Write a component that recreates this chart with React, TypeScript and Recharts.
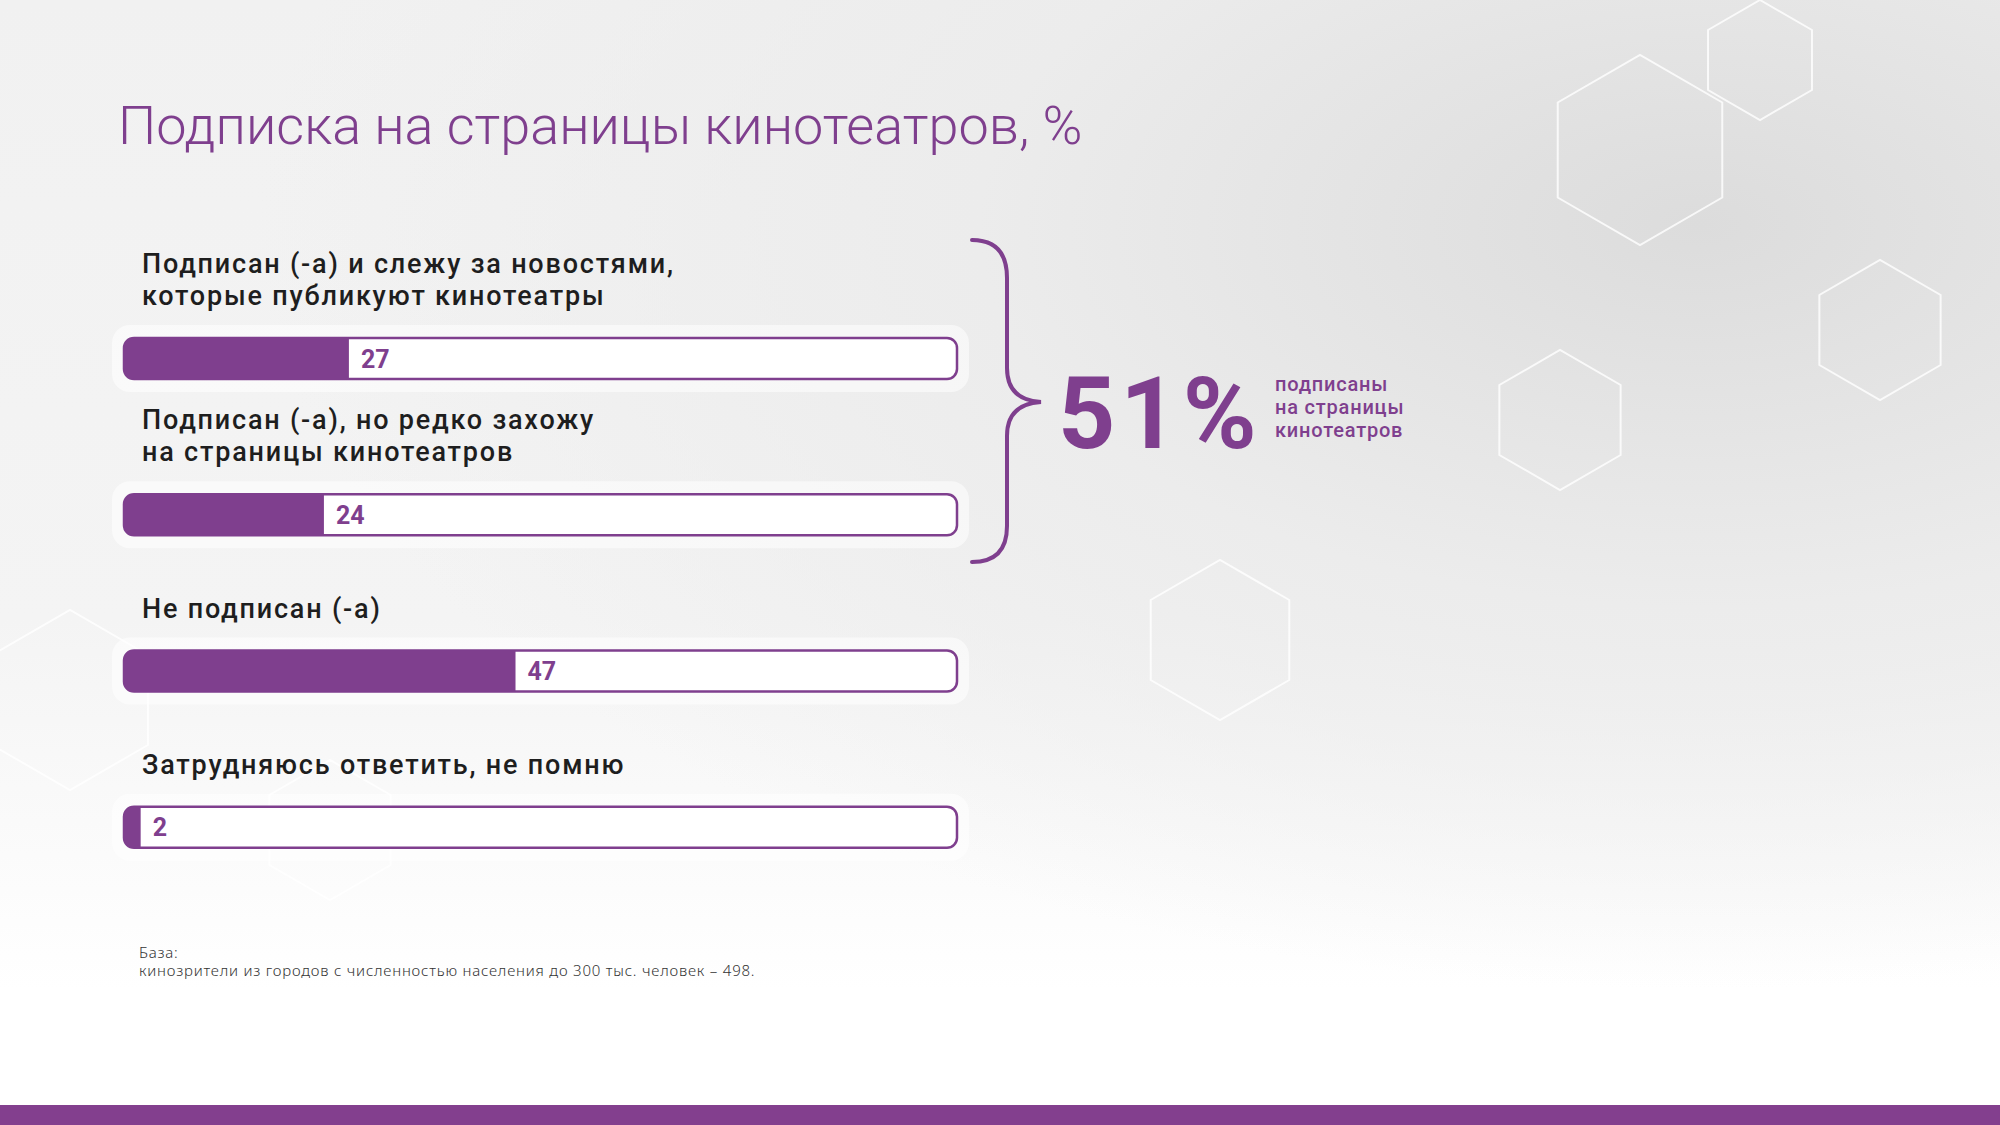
import React from 'react'
import { BarChart, Bar, XAxis, YAxis, LabelList } from 'recharts'

// answers, one per bar (\n = line break in the label)
const answers = [
  'Подписан (-а) и слежу за новостями,\nкоторые публикуют кинотеатры',
  'Подписан (-а), но редко захожу\nна страницы кинотеатров',
  'Не подписан (-а)',
  'Затрудняюсь ответить, не помню',
]
const shares = [27, 24, 47, 2]
const totalSubscribed = '51%'
const totalNote = ['подписаны', 'на страницы', 'кинотеатров']
const title = 'Подписка на страницы кинотеатров, %'
const baseNote = ['База:', 'кинозрители из городов с численностью населения до 300 тыс. человек – 498.']

const PURPLE = '#7f3f8e'
const FONT = 'Roboto, "Noto Sans", sans-serif'
const WIDE = '"Noto Sans", Roboto, sans-serif'

const chartData = answers.map((a, i) => ({ name: a, value: shares[i] }))

// faint hexagons in the backdrop
const hexes = [
  [1640, 150, 95], [1880, 330, 70], [1560, 420, 70], [1220, 640, 80], [70, 700, 90], [330, 830, 70], [1760, 60, 60],
]
const hexPath = (cx: number, cy: number, r: number) =>
  Array.from({ length: 6 }, (_, k) => {
    const a = (Math.PI / 3) * k + Math.PI / 6
    return `${k === 0 ? 'M' : 'L'}${cx + r * Math.cos(a)},${cy + r * Math.sin(a)}`
  }).join(' ') + ' Z'

const Track = (props: any) => {
  const { x, y, width, height } = props
  return (
    <g>
      <rect x={x - 12} y={y - 13} width={width + 24} height={height + 26} rx={18} fill="#ffffff" fillOpacity={0.55} />
      <rect x={x} y={y} width={width} height={height} rx={10} fill="#ffffff" stroke={PURPLE} strokeWidth={2.5} />
    </g>
  )
}

const NameLabel = (props: any) => {
  const { x, y, value } = props
  const lines = String(value).split('\n')
  const lh = 32
  const top = y - 33 - (lines.length - 1) * lh
  return (
    <g>
      {lines.map((l, i) => (
        <text key={i} x={x + 18} y={top + i * lh} fill="#1e1e1e" fontFamily={FONT} fontSize={27} fontWeight={500} letterSpacing={1.8}>
          {l}
        </text>
      ))}
    </g>
  )
}

const ValueLabel = (props: any) => {
  const { x, y, width, height, value } = props
  return (
    <text x={x + width + 12} y={y + height / 2 + 9} fill={PURPLE} fontFamily={FONT} fontSize={25} fontWeight={700}>
      {value}
    </text>
  )
}

const App = () => {
  return (
    <div style={{ position: 'absolute', left: 0, top: 0, width: 2000, height: 1125, overflow: 'hidden',
      background: 'radial-gradient(ellipse at 85% 20%, #dcdcdc 0%, #ececec 30%, rgba(255,255,255,0) 60%), linear-gradient(180deg, #f1f1f1 0%, #f4f4f4 55%, #ffffff 88%)' }}>
      <svg width={2000} height={1125} style={{ position: 'absolute', left: 0, top: 0 }}>
        {hexes.map(([cx, cy, r], i) => (
          <path key={i} d={hexPath(cx, cy, r)} fill="none" stroke="#ffffff" strokeWidth={2} opacity={0.8} />
        ))}
      </svg>
      <div style={{ position: 'absolute', left: 0, top: 0 }}>
        <BarChart
          width={2000}
          height={1125}
          data={chartData}
          layout="vertical"
          margin={{ top: 280, right: 1043, bottom: 220, left: 124 }}
        >
          <XAxis type="number" domain={[0, 100]} hide />
          <YAxis type="category" dataKey="name" hide />
          <Bar
            dataKey="value"
            fill={PURPLE}
            barSize={41}
            radius={[10, 0, 0, 10]}
            background={Track}
            isAnimationActive={false}
          >
            <LabelList dataKey="value" content={ValueLabel} />
            <LabelList dataKey="name" content={NameLabel} />
          </Bar>
        </BarChart>
      </div>
      <svg width={2000} height={1125} style={{ position: 'absolute', left: 0, top: 0, pointerEvents: 'none' }}>
        <text x={118} y={144} fill={PURPLE} fontFamily={FONT} fontSize={54} fontWeight={300}>{title}</text>
        <path
          d="M972,240 Q1007,240 1007,278 L1007,368 Q1007,400 1041,402 Q1007,404 1007,436 L1007,526 Q1007,562 972,562"
          fill="none" stroke={PURPLE} strokeWidth={4} strokeLinecap="round"
        />
        <text x={1058} y={448} fill={PURPLE} fontFamily={FONT} fontSize={100} fontWeight={700} letterSpacing={5}>{totalSubscribed}</text>
        {totalNote.map((t, i) => (
          <text key={i} x={1275} y={391 + i * 23} fill={PURPLE} fontFamily={FONT} fontSize={20} fontWeight={500} letterSpacing={0.8}>{t}</text>
        ))}
        {baseNote.map((t, i) => (
          <text key={i} x={139} y={958 + i * 18} fill="#333" fontFamily={WIDE} fontSize={15} fontWeight={300} letterSpacing={0.8}>{t}</text>
        ))}
        <rect x={0} y={1105} width={2000} height={20} fill="#833f8e" />
      </svg>
    </div>
  )
}

export default App
